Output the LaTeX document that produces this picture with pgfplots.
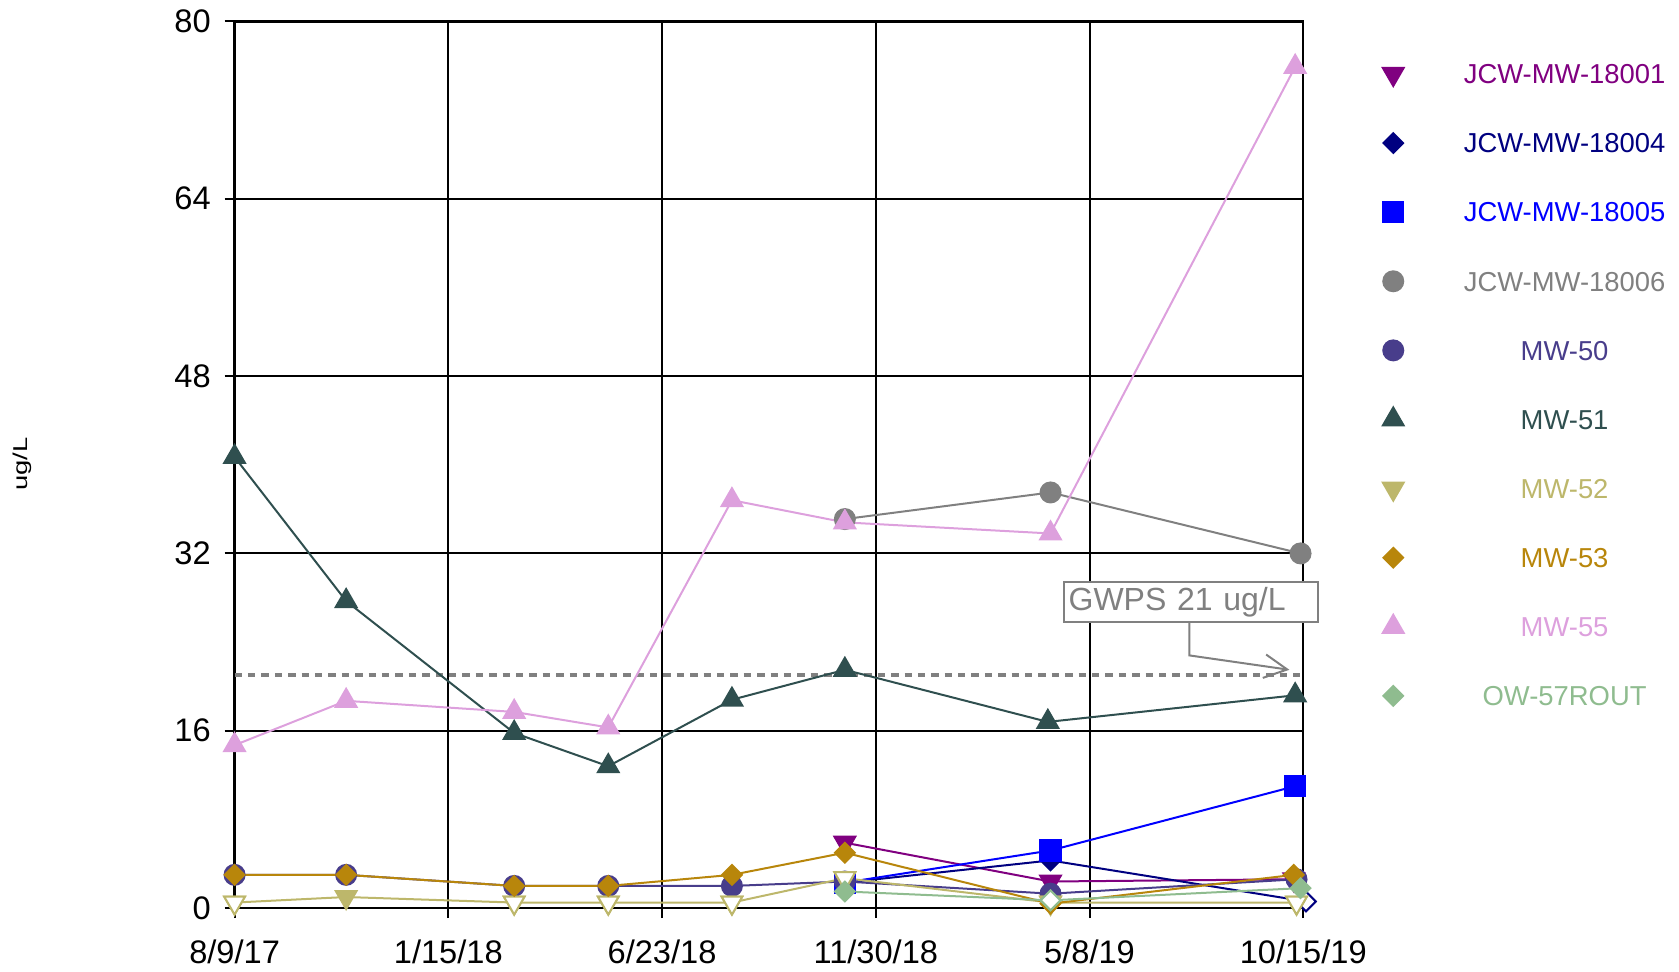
\documentclass[border=0pt]{standalone}
\usepackage{fontspec}
\setmainfont{Liberation Sans}
\usepackage{pgfplots}
\pgfplotsset{compat=1.18}
\usetikzlibrary{arrows.meta}
\definecolor{c1}{HTML}{800080}
\definecolor{c4}{HTML}{000080}
\definecolor{c5}{HTML}{0000FF}
\definecolor{c6}{HTML}{808080}
\definecolor{c50}{HTML}{483D8B}
\definecolor{c51}{HTML}{2F4F4F}
\definecolor{c52}{HTML}{BDB76B}
\definecolor{c53}{HTML}{B8860B}
\definecolor{c55}{HTML}{DDA0DD}
\definecolor{c57}{HTML}{8FBC8F}
\pgfdeclareplotmark{rdiamond*}{%
  \pgfpathmoveto{\pgfqpoint{0pt}{\pgfplotmarksize}}%
  \pgfpathlineto{\pgfqpoint{\pgfplotmarksize}{0pt}}%
  \pgfpathlineto{\pgfqpoint{0pt}{-\pgfplotmarksize}}%
  \pgfpathlineto{\pgfqpoint{-\pgfplotmarksize}{0pt}}%
  \pgfpathclose\pgfusepathqfillstroke}
\begin{document}
\begin{tikzpicture}
\useasboundingbox (-117.3pt,-31.6pt) rectangle (722.3pt,454.1pt);
\begin{axis}[
  at={(0pt,0pt)}, anchor=south west,
  width=534.4pt, height=443.4pt, scale only axis,
  xmin=0, xmax=795, ymin=0, ymax=80,
  xtick={0,159,318,477,636,795},
  xticklabels={8/9/17,1/15/18,6/23/18,11/30/18,5/8/19,10/15/19},
  ytick={0,16,32,48,64,80},
  xtick pos=bottom, ytick pos=left,
  grid=major, major grid style={black, line width=1pt},
  axis line style={black, line width=1.2pt},
  tick style={black, line width=1pt},
  tick align=outside, major tick length=5pt,
  /pgf/number format/assume math mode=true,
  ticklabel style={font=\fontsize{16.3}{19}\selectfont},
  yticklabel style={xshift=-3.4pt},
  xticklabel style={yshift=-7.3pt},
  ylabel={\scalebox{1.37}[1]{ug/L}},
  ylabel style={font=\fontsize{9.7}{12}\selectfont},
  every axis y label/.style={at={(axis description cs:-0.1984,0.501)}, rotate=90, anchor=center},
  clip=false,
  legend cell align=center,
  legend style={at={(axis description cs:1.0730,0.9543)}, anchor=north west,
    draw=none, fill=none, inner sep=0pt, outer sep=0pt,
    row sep=22.56pt, column sep=0pt,
    nodes={inner sep=0pt, outer sep=0pt, text height=9.8pt, text depth=0pt, font=\fontsize{13.7}{16}\selectfont},
    /tikz/every even column/.append style={column sep=0pt}},
  legend image code/.code={\draw[#1,only marks] plot coordinates {(6pt,0pt)}; \path[draw=none,fill=none] (0pt,-6pt) (41.3pt,6pt);},
]
% GWPS line
\addplot[forget plot, color=c6, line width=2pt, dash pattern=on 3.7pt off 3pt] coordinates {(0,21) (797,21)};

% JCW-MW-18001
\addplot[color=c1, line width=1pt, mark=triangle*, mark size=6pt, mark options={rotate=180}]
  coordinates {(454,5.9) (607,2.4) (788,2.6)};
\addlegendentry{\textcolor{c1}{JCW-MW-18001}}

% JCW-MW-18004
\addplot[color=c4, line width=1pt, mark=rdiamond*, mark size=4.9pt]
  coordinates {(454,2.3) (607,4.3) (797,0.6)};
\addlegendentry{\textcolor{c4}{JCW-MW-18004}}
\addplot[forget plot, only marks, color=c4, line width=1pt, mark=rdiamond*, mark size=4.9pt, mark options={fill=white}]
  coordinates {(797,0.6)};

% JCW-MW-18005
\addplot[color=c5, line width=1pt, mark=square*, mark size=5.1pt]
  coordinates {(454,2.3) (607,5.2) (789,11.0)};
\addlegendentry{\textcolor{c5}{JCW-MW-18005}}

% JCW-MW-18006
\addplot[color=c6, line width=1pt, mark=*, mark size=5pt]
  coordinates {(454,35.1) (607,37.5) (793,32.0)};
\addlegendentry{\textcolor{c6}{JCW-MW-18006}}

% MW-50
\addplot[color=c50, line width=1pt, mark=*, mark size=5pt]
  coordinates {(0,3.0) (83,3.0) (208,2.0) (278,2.0) (370,2.0) (454,2.4) (607,1.3) (790,2.6)};
\addlegendentry{\textcolor{c50}{MW-50}}

% MW-51
\addplot[color=c51, line width=1pt, mark=triangle*, mark size=6pt]
  coordinates {(0,40.7) (83,27.7) (208,15.8) (278,12.8) (370,18.8) (454,21.5) (605,16.8) (789,19.2)};
\addlegendentry{\textcolor{c51}{MW-51}}

% MW-52
\addplot[color=c52, line width=1pt, mark=triangle*, mark size=6pt, mark options={rotate=180}]
  coordinates {(0,0.5) (83,1.0) (208,0.5) (278,0.5) (370,0.5) (454,2.7) (607,0.5) (790,0.5)};
\addlegendentry{\textcolor{c52}{MW-52}}
\addplot[forget plot, only marks, color=c52, line width=1pt, mark=triangle*, mark size=6pt, mark options={rotate=180, fill=white}]
  coordinates {(0,0.5) (208,0.5) (278,0.5) (370,0.5) (454,2.7) (607,0.5) (790,0.5)};

% MW-53
\addplot[color=c53, line width=1pt, mark=rdiamond*, mark size=4.9pt]
  coordinates {(0,3.0) (83,3.0) (208,2.0) (278,2.0) (370,3.0) (454,5.0) (607,0.4) (788,3.0)};
\addlegendentry{\textcolor{c53}{MW-53}}

% MW-55
\addplot[color=c55, line width=1pt, mark=triangle*, mark size=6pt]
  coordinates {(0,14.7) (83,18.7) (208,17.7) (278,16.3) (370,36.8) (454,34.8) (607,33.8) (789,75.9)};
\addlegendentry{\textcolor{c55}{MW-55}}

% OW-57ROUT
\addplot[color=c57, line width=1pt, mark=rdiamond*, mark size=4.9pt]
  coordinates {(454,1.5) (607,0.7) (793,1.8)};
\addlegendentry{\textcolor{c57}{OW-57ROUT}}
\addplot[forget plot, only marks, color=c57, line width=1pt, mark=rdiamond*, mark size=4.9pt, mark options={fill=white}]
  coordinates {(607,0.7)};

% annotation
\node[draw=c6, line width=1pt, fill=white, text=c6, anchor=north west, inner xsep=2.1pt, inner ysep=0pt,
  text width=122.7pt, minimum height=19.8pt, align=left, font=\fontsize{16}{19}\selectfont]
  at (axis cs:616.6,29.47) {GWPS 21 ug/L};
\draw[c6, line width=1pt, -{Straight Barb[length=11.5pt,width=11.8pt]}]
  (axis cs:710.2,25.9) -- (axis cs:710.2,22.8) -- (axis cs:784.7,21.5);
\end{axis}
\end{tikzpicture}
\end{document}
